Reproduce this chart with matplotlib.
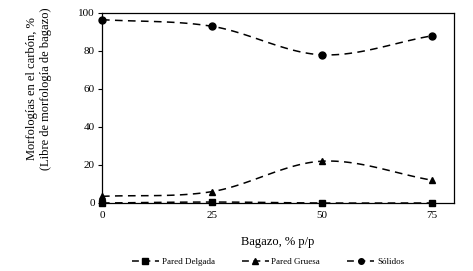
import numpy as np
import matplotlib
matplotlib.use("Agg")
import matplotlib.pyplot as plt
from matplotlib.lines import Line2D

bagazo = [0, 25, 50, 75]
pared_delgada = [0.0, 0.5, 0.0, 0.0]
pared_gruesa = [3.5, 6.0, 22.0, 12.0]
solidos = [96.5, 93.0, 78.0, 88.0]
series_names = ["Pared Delgada", "Pared Gruesa", "Sólidos"]
markers = ["s", "^", "o"]

plt.rcParams['font.family'] = ['Liberation Serif', 'DejaVu Serif']


def catmull(x, y, n=40):
    x = np.asarray(x, float); y = np.asarray(y, float)
    px = np.concatenate([[2*x[0]-x[1]], x, [2*x[-1]-x[-2]]])
    py = np.concatenate([[2*y[0]-y[1]], y, [2*y[-1]-y[-2]]])
    xs, ys = [], []
    for i in range(1, len(px)-2):
        t = np.linspace(0, 1, n)
        for arr, out in ((px, xs), (py, ys)):
            p0, p1, p2, p3 = arr[i-1], arr[i], arr[i+1], arr[i+2]
            out.extend(0.5*((2*p1) + (-p0+p2)*t + (2*p0-5*p1+4*p2-p3)*t**2 + (-p0+3*p1-3*p2+p3)*t**3))
    return np.array(xs), np.array(ys)


fig = plt.figure(figsize=(4.73, 2.71), dpi=100)
ax = fig.add_axes([102/473, 1-203/271, (454-102)/473, (203-13)/271])

handles = []
for vals, name, m in zip([pared_delgada, pared_gruesa, solidos], series_names, markers):
    sx, sy = catmull(bagazo, vals)
    ax.plot(sx, sy, color='black', lw=1.1, ls=(0, (5, 3.5)), clip_on=False)
    ax.plot(bagazo, vals, ls='none', marker=m, color='black', ms=5, clip_on=False, zorder=3)
    handles.append(Line2D([], [], color='black', lw=1.1, ls=(0, (4.5, 3)), marker=m, ms=4, label=name))

ax.set_xlim(0, 80)
ax.set_ylim(0, 100)
ax.set_xticks(bagazo)
ax.set_yticks([0, 20, 40, 60, 80, 100])
ax.tick_params(axis='x', length=0, labelsize=8, pad=6)
ax.tick_params(axis='y', length=3, direction='out', labelsize=8, pad=2)
for s in ax.spines.values():
    s.set_linewidth(0.9)
ax.set_xlabel("Bagazo, % p/p", fontsize=9, labelpad=11)
ax.set_ylabel("Morfologías en el carbón, %\n(Libre de morfología de bagazo)", fontsize=9)
ax.yaxis.set_label_coords(-0.143, 0.6)

fig.legend(handles=handles, loc='center', bbox_to_anchor=(268/473, 1-262/271), ncol=3,
           frameon=False, fontsize=6.5, handlelength=3.0, columnspacing=3.0, handletextpad=0.3)

fig.savefig("out.png", dpi=100)
